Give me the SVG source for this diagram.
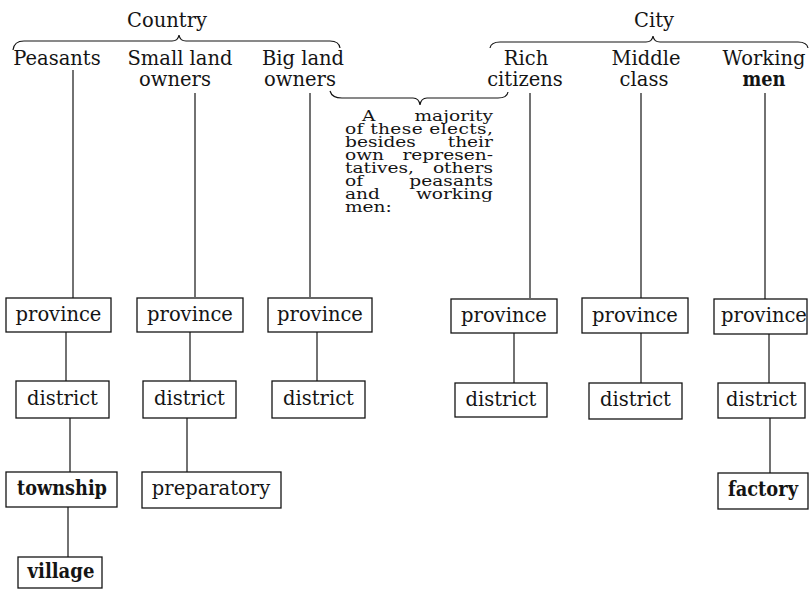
<svg xmlns="http://www.w3.org/2000/svg" width="810" height="589" viewBox="0 0 810 589">
<style>
text{font-family:"DejaVu Serif","Liberation Serif",serif;font-size:19.5px;fill:#141414}
.m{text-anchor:middle}
.e{text-anchor:end}
.b{font-weight:bold}
.n{font-size:15.5px}
.box{fill:none;stroke:#141414;stroke-width:1.3}
.ln{stroke:#141414;stroke-width:1.2;fill:none}
</style>
<rect width="810" height="589" fill="#fff"/>
<g id="headers">
<text class="m" x="167" y="27">Country</text>
<text class="m" x="654" y="27">City</text>
<text class="m" x="57" y="65">Peasants</text>
<text class="m" x="180" y="65">Small land</text>
<text class="m" x="175" y="86">owners</text>
<text class="m" x="303" y="65">Big land</text>
<text class="m" x="300" y="86">owners</text>
<text class="m" x="526" y="65">Rich</text>
<text class="m" x="525" y="86">citizens</text>
<text class="m" x="646" y="65">Middle</text>
<text class="m" x="644" y="86">class</text>
<text class="m" x="764" y="65">Working</text>
<text class="m b" x="764" y="86" textLength="43" lengthAdjust="spacingAndGlyphs">men</text>
</g>
<g id="note" transform="matrix(1.2,0,0,1,-69,0)">
<text class="n" x="359.2" y="121">A</text><text class="n e" x="468.3" y="121">majority</text>
<text class="n" x="345" y="134" textLength="123.3" lengthAdjust="spacing">of these elects,</text>
<text class="n" x="345" y="147">besides</text><text class="n e" x="468.3" y="147">their</text>
<text class="n" x="345" y="160">own</text><text class="n e" x="468.3" y="160">represen-</text>
<text class="n" x="345" y="173">tatives,</text><text class="n e" x="468.3" y="173">others</text>
<text class="n" x="345" y="186">of</text><text class="n e" x="468.3" y="186">peasants</text>
<text class="n" x="345" y="199">and</text><text class="n e" x="468.3" y="199">working</text>
<text class="n" x="345" y="212">men:</text>
</g>
<g id="connectors">
<path class="ln" d="M13,50 Q14,41 24,41 L172,41 Q178,41 179,35 Q180,41 186,41 L330,41 Q339,41 340,48"/>
<path class="ln" d="M490,48 Q491,42 500,42 L646,42 Q652,42 653,36 Q654,42 660,42 L798,42 Q807,42 808,48"/>
<path class="ln" d="M330,91 Q332,98 342,98 L413,98 Q419,98 420,105 Q421,98 427,98 L498,98 Q507,98 508,92"/>
<line class="ln" x1="73" y1="70" x2="73" y2="298"/>
<line class="ln" x1="195" y1="93" x2="195" y2="297"/>
<line class="ln" x1="310" y1="93" x2="310" y2="297"/>
<line class="ln" x1="530" y1="93" x2="530" y2="298"/>
<line class="ln" x1="641" y1="93" x2="641" y2="298"/>
<line class="ln" x1="765" y1="93" x2="765" y2="299"/>
<line class="ln" x1="66" y1="332" x2="66" y2="381"/>
<line class="ln" x1="190" y1="332" x2="190" y2="381"/>
<line class="ln" x1="317" y1="332" x2="317" y2="381"/>
<line class="ln" x1="514" y1="333" x2="514" y2="383"/>
<line class="ln" x1="641" y1="333" x2="641" y2="383"/>
<line class="ln" x1="769" y1="334" x2="769" y2="383"/>
<line class="ln" x1="70" y1="418" x2="70" y2="472"/>
<line class="ln" x1="187" y1="418" x2="187" y2="472"/>
<line class="ln" x1="770" y1="418" x2="770" y2="473"/>
<line class="ln" x1="68" y1="507" x2="68" y2="557"/>
</g>
<g id="p1"><rect class="box" x="6" y="298" width="105" height="34"/><text class="m" x="58.5" y="321">province</text></g>
<g id="p2"><rect class="box" x="137" y="298" width="106" height="34"/><text class="m" x="190" y="321">province</text></g>
<g id="p3"><rect class="box" x="268" y="298" width="104" height="34"/><text class="m" x="320" y="321">province</text></g>
<g id="p4"><rect class="box" x="451" y="299" width="106" height="34"/><text class="m" x="504" y="322">province</text></g>
<g id="p5"><rect class="box" x="582" y="298" width="106" height="35"/><text class="m" x="635" y="322">province</text></g>
<g id="p6"><rect class="box" x="714" y="299" width="93" height="35"/><text class="m" x="764" y="322">province</text></g>
<g id="d1"><rect class="box" x="16" y="381" width="93" height="37"/><text class="m" x="62.5" y="405">district</text></g>
<g id="d2"><rect class="box" x="143" y="381" width="93" height="37"/><text class="m" x="189.5" y="405">district</text></g>
<g id="d3"><rect class="box" x="272" y="381" width="93" height="37"/><text class="m" x="318.5" y="405">district</text></g>
<g id="d4"><rect class="box" x="455" y="383" width="92" height="34"/><text class="m" x="501" y="406">district</text></g>
<g id="d5"><rect class="box" x="589" y="383" width="93" height="36"/><text class="m" x="635.5" y="406">district</text></g>
<g id="d6"><rect class="box" x="718" y="383" width="87" height="35"/><text class="m" x="761.5" y="406">district</text></g>
<g id="township"><rect class="box" x="6" y="472" width="111" height="35"/><text class="m b" x="62" y="495" textLength="90" lengthAdjust="spacingAndGlyphs">township</text></g>
<g id="preparatory"><rect class="box" x="142" y="472" width="139" height="36"/><text class="m" x="211" y="495">preparatory</text></g>
<g id="factory"><rect class="box" x="718" y="473" width="90" height="36"/><text class="m b" x="763" y="496" textLength="70" lengthAdjust="spacingAndGlyphs">factory</text></g>
<g id="village"><rect class="box" x="18" y="557" width="84" height="31"/><text class="m b" x="61" y="578" textLength="67" lengthAdjust="spacingAndGlyphs">village</text></g>
</svg>
